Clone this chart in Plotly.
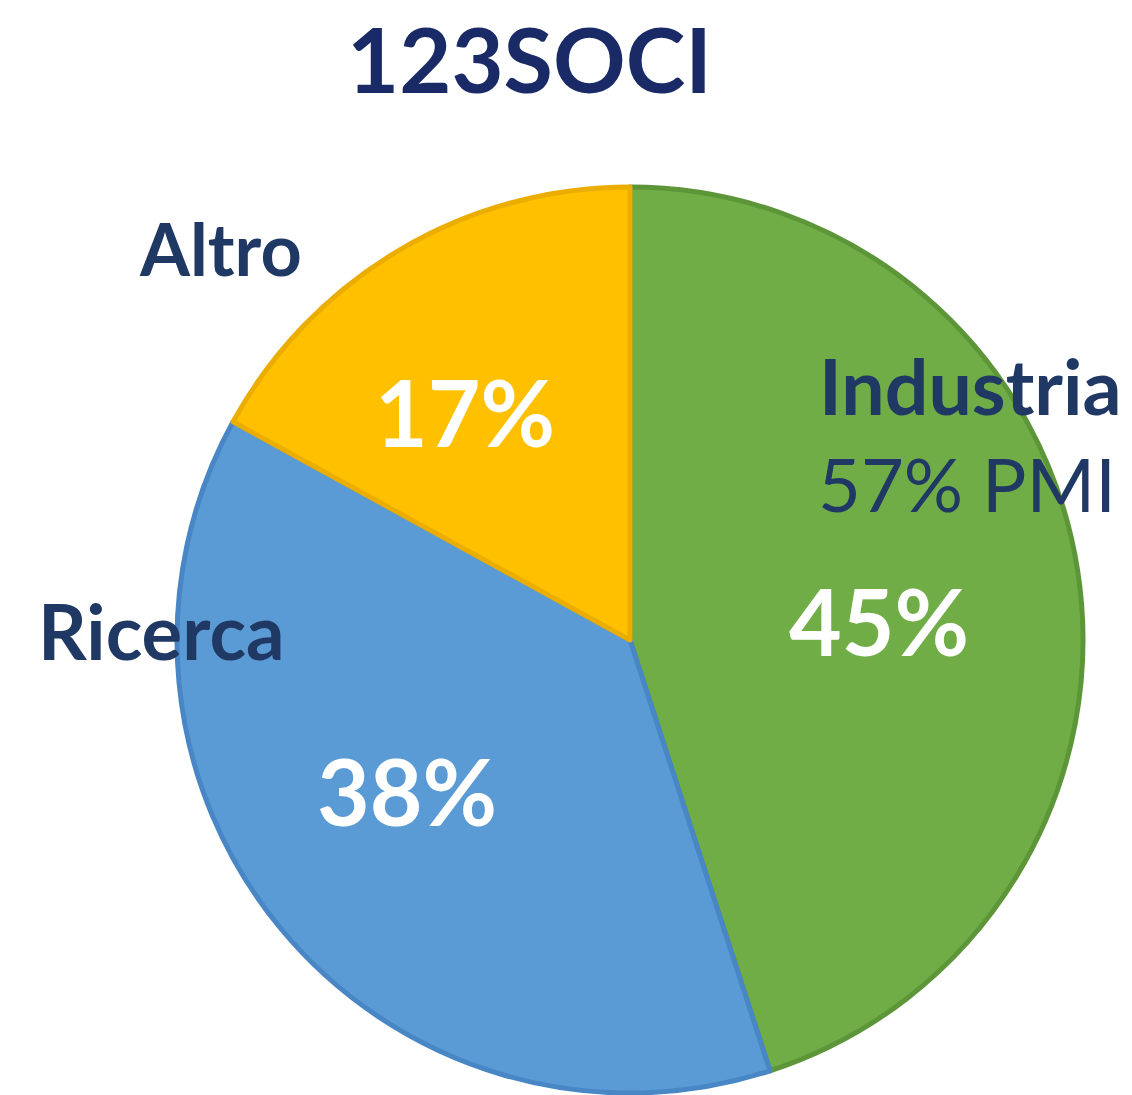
import plotly.graph_objects as go

title_text = "123SOCI"
categories = ["Industria", "Ricerca", "Altro"]
values = [45, 38, 17]
industria_note = "57% PMI"

colors = ["#70AD47", "#5B9BD5", "#FFC000"]
edge_colors = ["#5C9638", "#4886C6", "#EBAE00"]

W, H = 1132, 1095

def px(x):
    return x / W

def py(y):
    return 1 - y / H

fig = go.Figure()
fig.add_trace(go.Pie(
    labels=categories,
    values=values,
    sort=False,
    direction="clockwise",
    rotation=0,
    textinfo="none",
    marker=dict(colors=colors, line=dict(color=edge_colors, width=5)),
    domain=dict(x=[px(177), px(1083)], y=[py(1093), py(187)]),
    showlegend=False,
    hoverinfo="label+percent",
))

label_font = dict(family="Lato", size=76, color="#1F3864")
pct_font = dict(family="Lato", size=91, color="#FFFFFF")

anns = []
# title
anns.append(dict(text=f"<b>{title_text}</b>", x=px(529), y=py(58), xref="paper", yref="paper",
                 showarrow=False, xanchor="center", yanchor="middle",
                 font=dict(family="Lato", size=90, color="#1A2A66")))
# category labels
label_pos = {"Industria": (970, 385), "Ricerca": (161, 630), "Altro": (220, 248)}
label_size = {"Industria": 77, "Ricerca": 76, "Altro": 72}
for c in categories:
    x, y = label_pos[c]
    anns.append(dict(text=f"<b>{c}</b>", x=px(x), y=py(y), xref="paper", yref="paper",
                     showarrow=False, xanchor="center", yanchor="middle",
                     font=dict(family="Lato", size=label_size[c], color="#1F3864")))
anns.append(dict(text=industria_note, x=px(967), y=py(483), xref="paper", yref="paper",
                 showarrow=False, xanchor="center", yanchor="middle",
                 font=dict(family="Lato", size=74, color="#1F3864")))
# percentages
pct_pos = {"Industria": (879, 620), "Ricerca": (407, 790), "Altro": (465, 411)}
for c, v in zip(categories, values):
    x, y = pct_pos[c]
    anns.append(dict(text=f"<b>{v}%</b>", x=px(x), y=py(y), xref="paper", yref="paper",
                     showarrow=False, xanchor="center", yanchor="middle", font=pct_font))

fig.update_layout(
    width=W, height=H,
    margin=dict(l=0, r=0, t=0, b=0),
    paper_bgcolor="white",
    plot_bgcolor="white",
    annotations=anns,
)

fig.write_html("out.html")
